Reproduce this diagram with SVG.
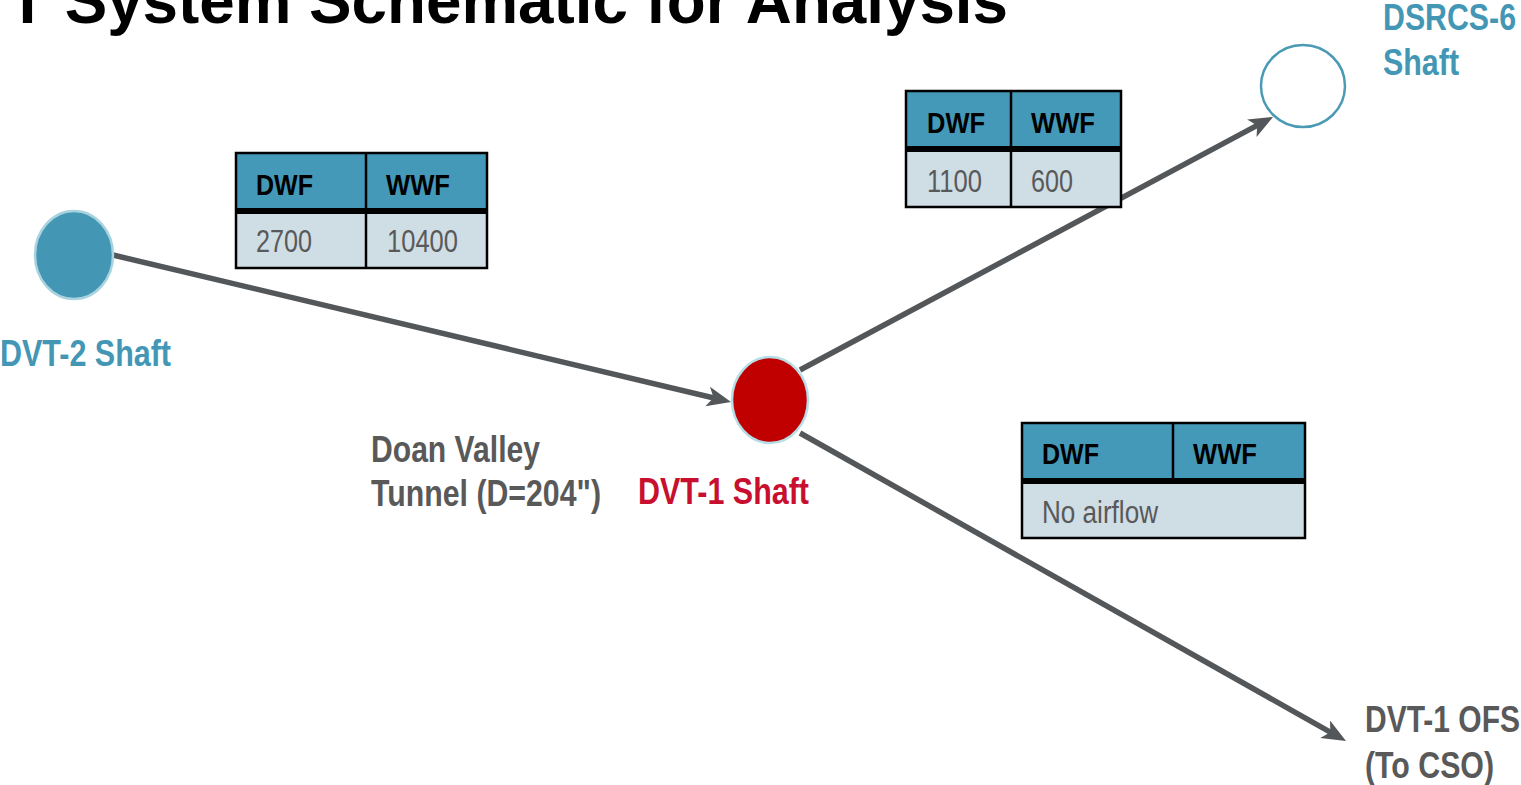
<svg xmlns="http://www.w3.org/2000/svg" width="1521" height="785" viewBox="0 0 1521 785">
<style>
  text { font-family: "Liberation Sans", Arial, sans-serif; }
  .title { font-size: 64px; font-weight: bold; fill: #000; }
  .lbl { font-size: 36px; font-weight: bold; }
  .blue { fill: #4397b5; }
  .gray { fill: #595959; }
  .red { fill: #c8102e; }
  .hdr { fill: #4399b7; }
  .body { fill: #cfdde5; }
  .hdrtxt { font-size: 29px; font-weight: bold; fill: #000; }
  .bodytxt { font-size: 31px; fill: #595959; }
  .frame { fill: none; stroke: #000; stroke-width: 2.5; }
  .sep { stroke: #000; stroke-width: 6; }
  .div { stroke: #000; stroke-width: 2.5; }
  .conn { fill: none; stroke: #54575a; stroke-width: 5.5; marker-end: url(#arrow); }
</style>
<defs>
  <marker id="arrow" markerUnits="userSpaceOnUse" markerWidth="26" markerHeight="22" refX="14" refY="10" orient="auto" viewBox="0 0 26 22">
    <path d="M0,0 L24,10 L0,20 L6,10 Z" fill="#54575a"/>
  </marker>
</defs>

<rect width="1521" height="785" fill="#ffffff"/>

<text class="title" x="8" y="23" textLength="1000" lengthAdjust="spacingAndGlyphs">T System Schematic for Analysis</text>

<g id="connectors">
  <path class="conn" d="M113,255 L721.3,399.7"/>
  <path class="conn" d="M800,370 L1264.2,121.7"/>
  <path class="conn" d="M800,433 L1337.3,736.1"/>
</g>

<g id="dvt2-shaft">
  <ellipse cx="74" cy="255" rx="39" ry="44" fill="#4397b5" stroke="#a9d3df" stroke-width="2.5"/>
  <text class="lbl blue" x="0" y="366" textLength="171" lengthAdjust="spacingAndGlyphs">DVT-2 Shaft</text>
</g>

<g id="dvt1-shaft">
  <ellipse cx="770" cy="400" rx="38" ry="43" fill="#c00000" stroke="#b7dde6" stroke-width="2.5"/>
  <text class="lbl red" x="638" y="504" textLength="171" lengthAdjust="spacingAndGlyphs">DVT-1 Shaft</text>
</g>

<g id="dsrcs6-shaft">
  <ellipse cx="1303" cy="86" rx="42" ry="41" fill="#ffffff" stroke="#4a9ab5" stroke-width="2.5"/>
  <text class="lbl blue" x="1383" y="30" textLength="133" lengthAdjust="spacingAndGlyphs">DSRCS-6</text>
  <text class="lbl blue" x="1383" y="75" textLength="76" lengthAdjust="spacingAndGlyphs">Shaft</text>
</g>

<g id="dvt1-ofs">
  <text class="lbl gray" x="1365" y="732" textLength="155" lengthAdjust="spacingAndGlyphs">DVT-1 OFS</text>
  <text class="lbl gray" x="1365" y="778" textLength="129" lengthAdjust="spacingAndGlyphs">(To CSO)</text>
</g>

<g id="tunnel-label">
  <text class="lbl gray" x="371" y="462" textLength="169" lengthAdjust="spacingAndGlyphs">Doan Valley</text>
  <text class="lbl gray" x="371" y="506" textLength="230" lengthAdjust="spacingAndGlyphs">Tunnel (D=204")</text>
</g>

<g id="table-dvt2">
  <rect class="hdr" x="236" y="153" width="251" height="58"/>
  <rect class="body" x="236" y="211" width="251" height="57"/>
  <line class="sep" x1="236" y1="211" x2="487" y2="211"/>
  <line class="div" x1="366" y1="153" x2="366" y2="268"/>
  <rect class="frame" x="236" y="153" width="251" height="115"/>
  <text class="hdrtxt" x="256" y="195" textLength="57" lengthAdjust="spacingAndGlyphs">DWF</text>
  <text class="hdrtxt" x="386" y="195" textLength="64" lengthAdjust="spacingAndGlyphs">WWF</text>
  <text class="bodytxt" x="256" y="252" textLength="56" lengthAdjust="spacingAndGlyphs">2700</text>
  <text class="bodytxt" x="387" y="252" textLength="71" lengthAdjust="spacingAndGlyphs">10400</text>
</g>

<g id="table-dsrcs6">
  <rect class="hdr" x="906" y="91" width="215" height="58"/>
  <rect class="body" x="906" y="149" width="215" height="58"/>
  <line class="sep" x1="906" y1="149" x2="1121" y2="149"/>
  <line class="div" x1="1011" y1="91" x2="1011" y2="207"/>
  <rect class="frame" x="906" y="91" width="215" height="116"/>
  <text class="hdrtxt" x="927" y="133" textLength="58" lengthAdjust="spacingAndGlyphs">DWF</text>
  <text class="hdrtxt" x="1031" y="133" textLength="64" lengthAdjust="spacingAndGlyphs">WWF</text>
  <text class="bodytxt" x="927" y="192" textLength="55" lengthAdjust="spacingAndGlyphs">1100</text>
  <text class="bodytxt" x="1031" y="192" textLength="42" lengthAdjust="spacingAndGlyphs">600</text>
</g>

<g id="table-ofs">
  <rect class="hdr" x="1022" y="423" width="283" height="58"/>
  <rect class="body" x="1022" y="481" width="283" height="57"/>
  <line class="sep" x1="1022" y1="481" x2="1305" y2="481"/>
  <line class="div" x1="1173" y1="423" x2="1173" y2="479"/>
  <rect class="frame" x="1022" y="423" width="283" height="115"/>
  <text class="hdrtxt" x="1042" y="464" textLength="57" lengthAdjust="spacingAndGlyphs">DWF</text>
  <text class="hdrtxt" x="1193" y="464" textLength="64" lengthAdjust="spacingAndGlyphs">WWF</text>
  <text class="bodytxt" x="1042" y="523" textLength="116" lengthAdjust="spacingAndGlyphs">No airflow</text>
</g>
</svg>
